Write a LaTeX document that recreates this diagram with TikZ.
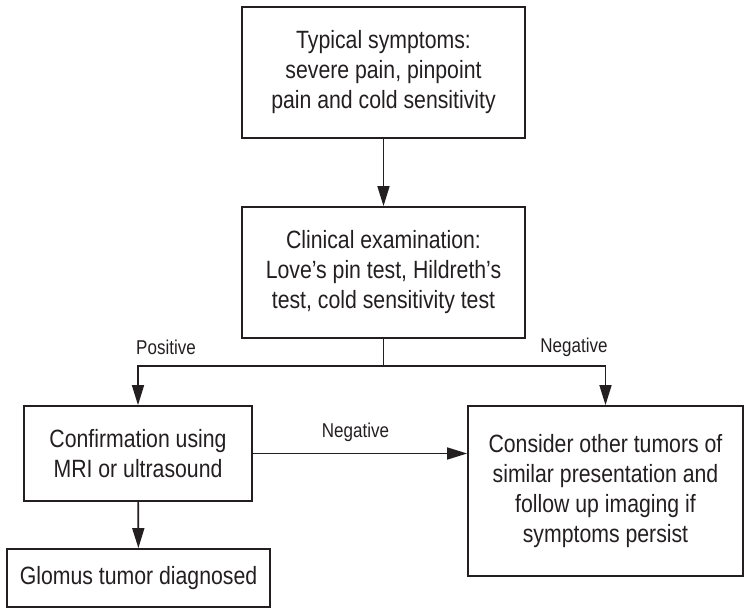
\documentclass[tikz,border=0pt]{standalone}
\usepackage{fontspec}
\setmainfont[FakeStretch=0.85]{Liberation Sans}
\usetikzlibrary{arrows.meta}
\definecolor{ink}{HTML}{231F20}
\begin{document}
\begin{tikzpicture}[x=1pt,y=-1pt,
  box/.style={draw=ink,line width=1.8pt,text=ink,align=center,inner sep=0pt,
    font=\fontsize{25}{30}\selectfont},
  arr/.style={draw=ink,line width=1.6pt,-{Triangle[length=20pt,width=12pt]}},
  ln/.style={draw=ink,line width=1.6pt},
  lbl/.style={text=ink,font=\fontsize{20}{24}\selectfont}]
\useasboundingbox (0,0) rectangle (748,613);
\node[box,minimum width=283pt,minimum height=131pt] (b1) at (383.5,72.5)
  {Typical symptoms:\\severe pain, pinpoint\\pain and cold sensitivity};
\node[box,minimum width=283pt,minimum height=131pt] (b2) at (383.5,272.5)
  {Clinical examination:\\Love’s pin test, Hildreth’s\\test, cold sensitivity test};
\node[box,minimum width=228pt,minimum height=95pt] (b3) at (138,453.5)
  {Confirmation using\\MRI or ultrasound};
\node[box,minimum width=275pt,minimum height=170pt] (b4) at (605.5,491)
  {Consider other tumors of\\similar presentation and\\follow up imaging if\\symptoms persist};
\node[box,minimum width=263pt,minimum height=58pt] (b5) at (138.5,578)
  {Glomus tumor diagnosed};
\coordinate (j) at (383.5,366);
\draw[arr] (b1) -- (b2);
\draw[ln] (b2) -- (j);
\draw[arr] (j) -| (b3);
\draw[arr] (j) -| (b4);
\draw[arr] (b3) -- (b3 -| b4.west);
\draw[arr] (b3) -- (b5);
\node[lbl] (lp) at (166,347) {Positive};
\node[lbl] (ln1) at (574,347) {Negative};
\node[lbl] (ln2) at (355.5,432) {Negative};
\end{tikzpicture}
\end{document}
